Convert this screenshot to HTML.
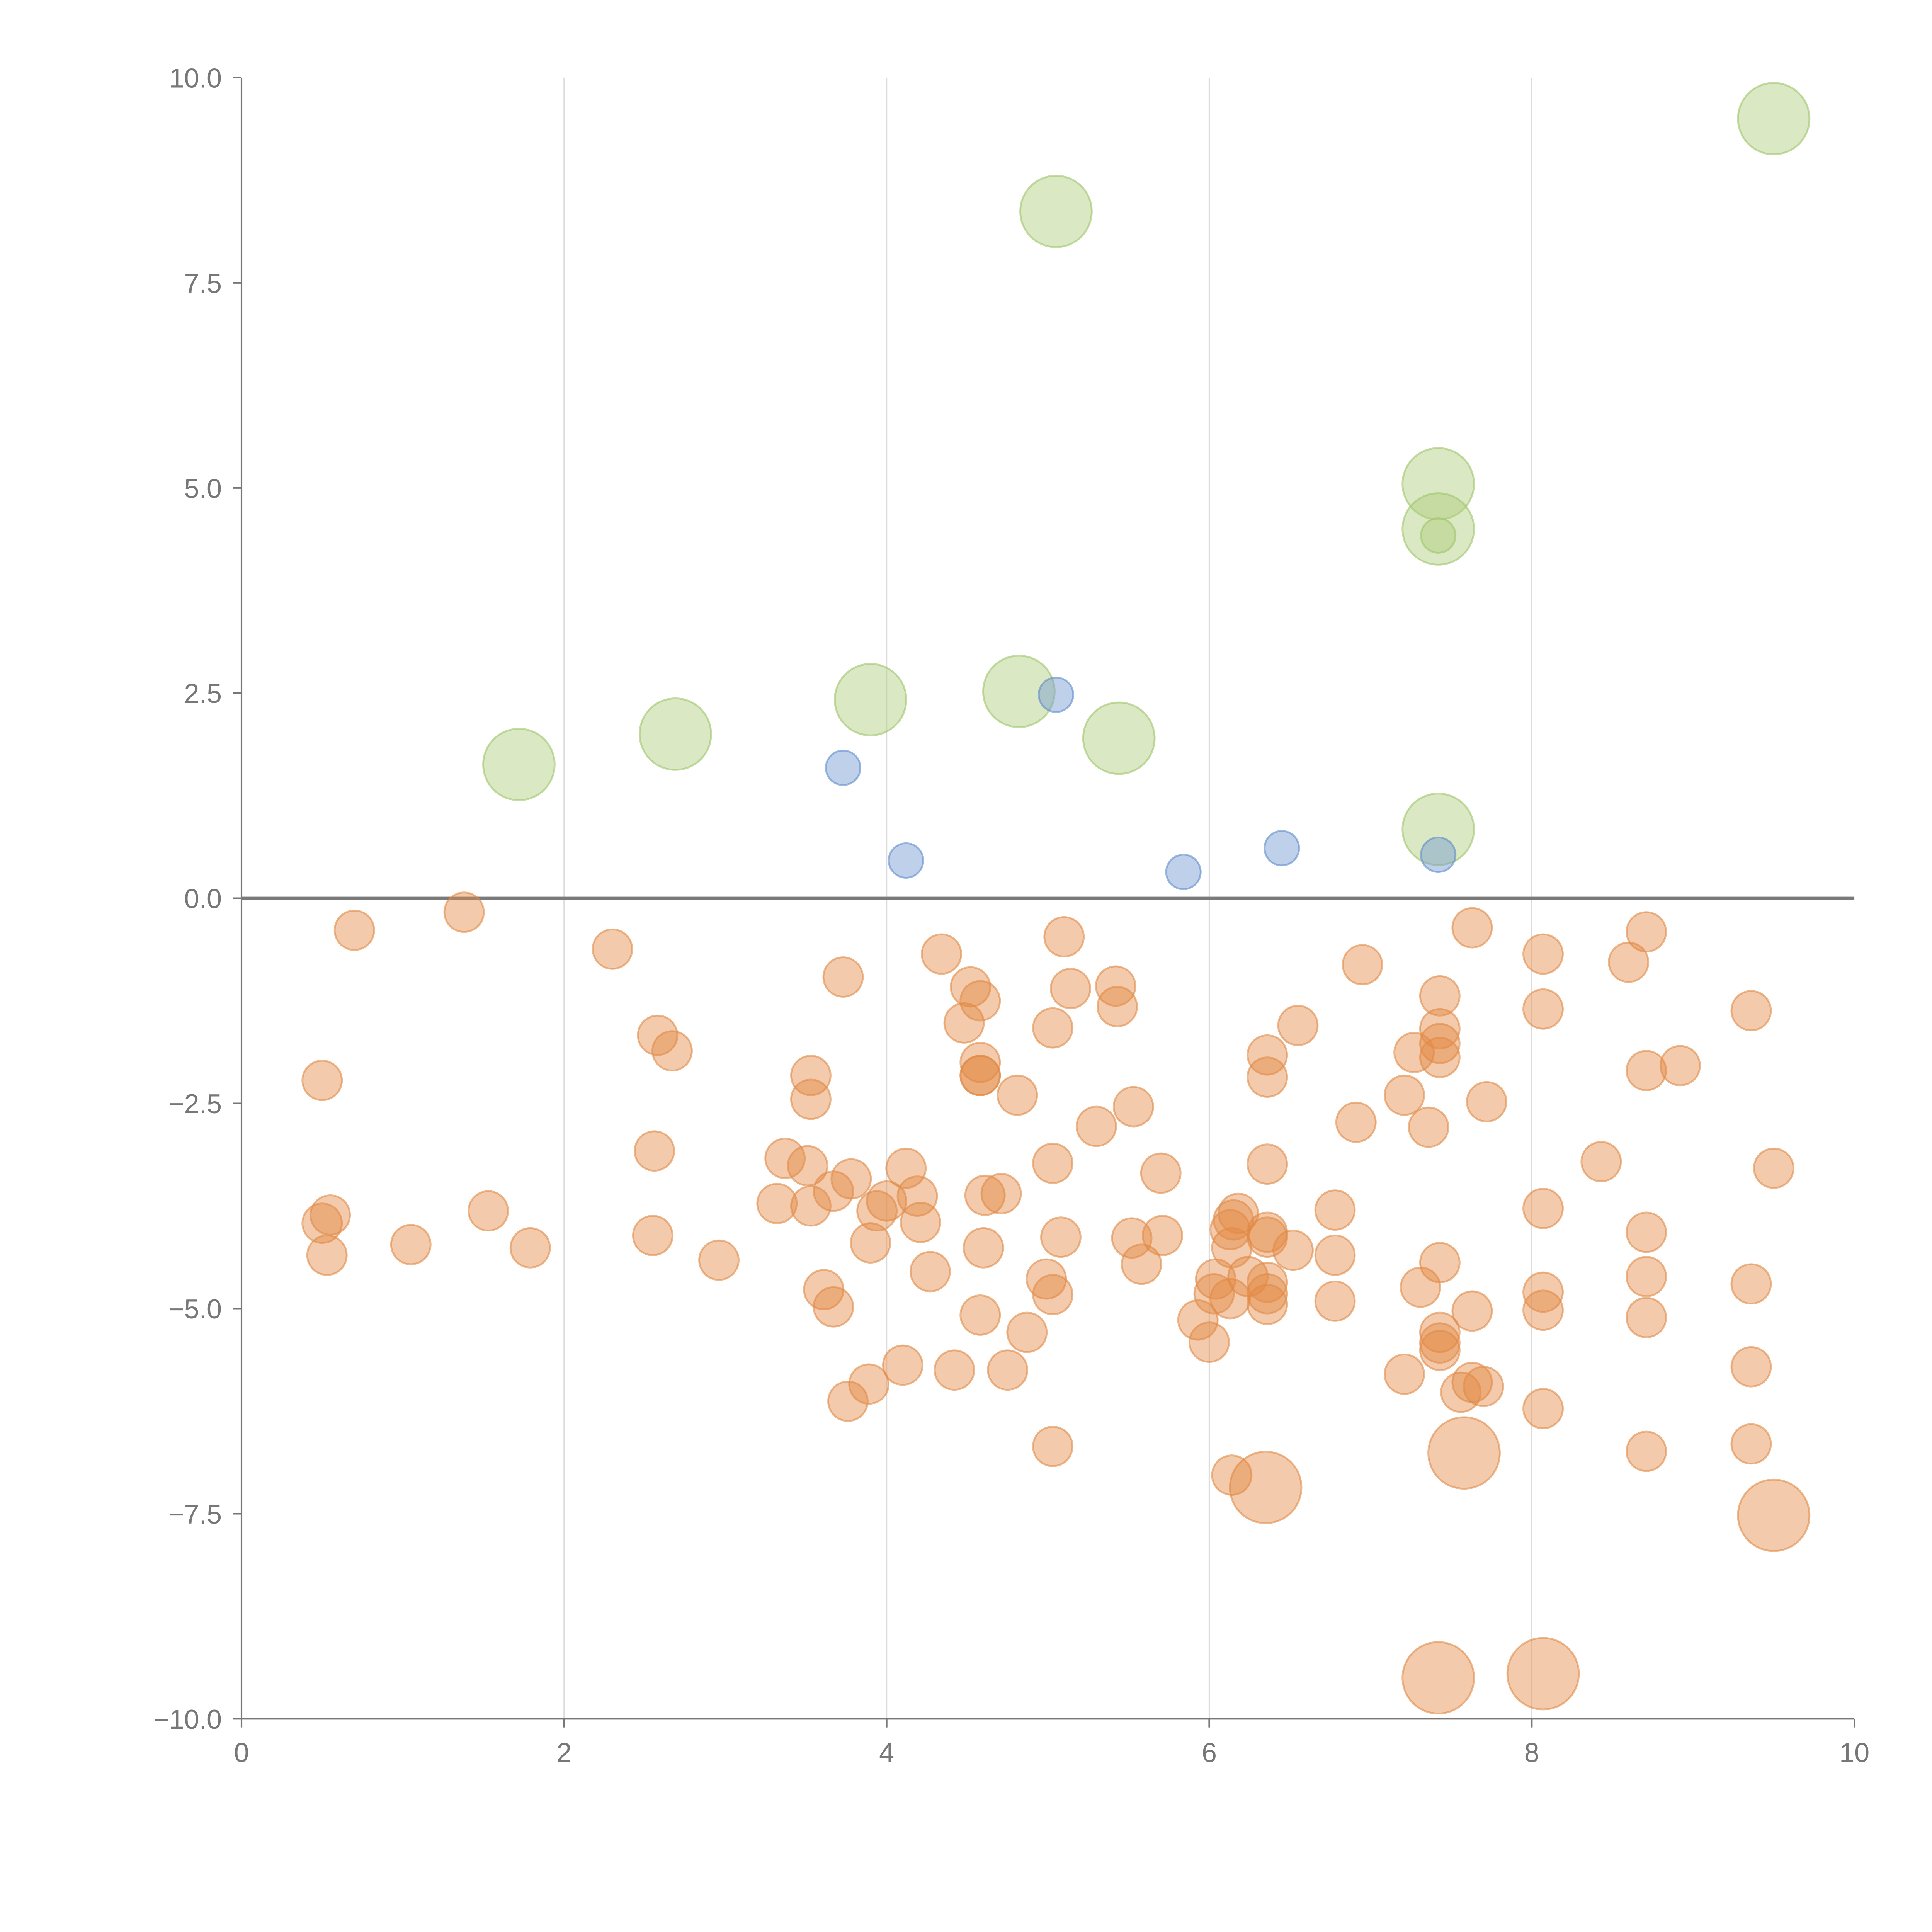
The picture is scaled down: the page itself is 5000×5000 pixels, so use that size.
<!DOCTYPE html>
<html><head><meta charset="utf-8"><style>html,body{margin:0;padding:0;background:#fff}svg{display:block}</style></head>
<body>
<svg id="chart" width="5000" height="5000" viewBox="0 0 1568 1568" xmlns="http://www.w3.org/2000/svg" font-family="Liberation Sans, sans-serif">
<g id="grid"></g>
<g id="axes"></g>
<g id="marks"></g>
</svg>
<script>
const xTicks=[0,2,4,6,8,10];
const yTicks=[-10,-7.5,-5,-2.5,0,2.5,5,7.5,10];
const greenX=[1.72,2.69,3.9,4.82,5.05,5.44,7.42,7.42,7.42,9.5,7.42];
const greenY=[1.63,2.0,2.42,2.52,8.37,1.95,5.05,4.5,0.84,9.5,4.42];
const greenR=[29,29,29,29,29,29,29,29,29,29,14];
const blueX=[3.73,4.12,5.05,5.84,6.45,7.42];
const blueY=[1.59,0.46,2.48,0.32,0.61,0.53];
const orangeBigX=[6.35,7.58,9.5,7.42,8.07];
const orangeBigY=[-7.18,-6.76,-7.52,-9.5,-9.45];
const orangeX=[0.70,1.38,2.30,0.50,0.50,0.55,0.53,1.05,1.53,1.79,2.58,2.67,2.56,2.55,2.96,3.37,3.51,3.53,3.53,3.32,3.53,3.67,3.78,3.73,3.61,3.67,3.76,3.89,3.90,3.94,4.00,4.12,4.19,4.21,4.10,4.27,4.34,4.42,4.48,4.52,4.58,4.58,4.58,4.58,4.61,4.60,4.58,4.71,4.75,4.81,4.87,5.10,5.03,5.14,5.03,5.08,4.99,5.03,5.03,5.30,5.42,5.43,5.53,5.70,5.52,5.58,5.71,5.93,6.00,6.04,6.03,6.13,6.14,6.15,6.18,6.14,6.13,6.24,6.36,6.36,6.36,6.36,6.36,6.36,6.36,6.36,6.52,6.55,6.78,6.78,6.78,6.91,6.95,7.21,7.27,7.21,7.31,7.36,7.43,7.43,7.43,7.43,7.43,7.43,7.43,7.43,7.56,7.63,7.70,7.63,7.63,7.72,8.07,8.07,8.07,8.07,8.07,8.07,8.43,8.60,8.71,8.71,8.71,8.71,8.71,8.71,8.92,9.36,9.36,9.36,9.36,9.50];
const orangeY=[-0.39,-0.17,-0.62,-2.22,-3.96,-3.86,-4.35,-4.22,-3.81,-4.26,-1.67,-1.86,-3.08,-4.11,-4.41,-3.17,-3.26,-2.16,-2.45,-3.72,-3.75,-3.57,-3.42,-0.96,-4.77,-4.98,-6.13,-5.92,-4.20,-3.81,-3.69,-3.29,-3.63,-3.95,-5.69,-4.55,-0.68,-5.75,-1.52,-1.08,-1.25,-2.0,-2.16,-2.16,-3.62,-4.26,-5.08,-3.60,-5.75,-2.40,-5.29,-0.47,-1.58,-1.10,-3.23,-4.13,-4.64,-4.83,-6.68,-2.78,-1.07,-1.32,-2.54,-3.35,-4.14,-4.46,-4.11,-5.14,-5.41,-4.64,-4.82,-4.88,-7.03,-3.92,-3.84,-4.26,-4.04,-4.61,-1.91,-2.18,-3.24,-4.07,-4.13,-4.68,-4.82,-4.95,-4.29,-1.55,-3.80,-4.35,-4.91,-2.73,-0.81,-2.40,-1.88,-5.80,-4.74,-2.79,-1.19,-1.59,-1.77,-1.94,-4.44,-5.29,-5.42,-5.51,-6.02,-5.90,-5.95,-5.03,-0.36,-2.48,-0.68,-1.35,-3.78,-4.80,-5.02,-6.22,-3.21,-0.78,-0.41,-2.10,-4.07,-4.61,-5.11,-6.74,-2.04,-1.37,-4.70,-5.71,-6.65,-3.29];
const NS='http://www.w3.org/2000/svg';
const X0=196,X1=1505,Y0=1395,Y1=63;
function sx(v){return X0+(v-0)/(10-0)*(X1-X0);}
function sy(v){return Y0-(v+10)/20*(Y0-Y1);}
function mk(tag,attrs,parent){const e=document.createElementNS(NS,tag);for(const k in attrs)e.setAttribute(k,attrs[k]);parent.appendChild(e);return e;}
const grid=document.getElementById('grid'),axes=document.getElementById('axes'),marks=document.getElementById('marks');
xTicks.forEach(t=>{
  if(t>0&&t<10){const g=mk('line',{x1:sx(t),x2:sx(t),y1:Y1,y2:Y0,stroke:'#dcdcdc','stroke-width':1},grid);
  
  }
  const tk=mk('line',{x1:sx(t),x2:sx(t),y1:Y0,y2:Y0+7,stroke:'#777','stroke-width':1.3},axes);
  
  
  const lb=mk('text',{x:sx(t),y:Y0+35,'text-anchor':'middle','font-size':22,fill:'#777'},axes);
  lb.textContent=String(t);
  
  
});
yTicks.forEach(t=>{
  const tk=mk('line',{x1:X0-7,x2:X0,y1:sy(t),y2:sy(t),stroke:'#777','stroke-width':1.3},axes);
  
  
  const lb=mk('text',{x:X0-16,y:sy(t)+8,'text-anchor':'end','font-size':22,fill:'#777'},axes);
  lb.textContent=(t<0?'\u2212'+Math.abs(t).toFixed(1):t.toFixed(1));
  
  
});
const ya=mk('line',{x1:X0,x2:X0,y1:Y1,y2:Y0,stroke:'#777','stroke-width':1.3},axes);


const xa=mk('line',{x1:X0,x2:X1,y1:Y0,y2:Y0,stroke:'#777','stroke-width':1.3},axes);


const zl=mk('line',{x1:X0,x2:X1,y1:sy(0),y2:sy(0),stroke:'#7a7a7a','stroke-width':2.5},axes);


function dots(xs,ys,rs,fill,stroke,name){
  xs.forEach((x,i)=>{
    const c=mk('circle',{cx:sx(x),cy:sy(ys[i]),r:(typeof rs==='number'?rs:rs[i]),fill:fill,'fill-opacity':0.45,stroke:stroke,'stroke-opacity':0.6,'stroke-width':1.5},marks);
    
    
  });
}
dots(orangeX,orangeY,16,'#e58a45','#e08a48','orange-bubble');
dots(orangeBigX,orangeBigY,29,'#e58a45','#e08a48','orange-large-bubble');
dots(greenX,greenY,greenR,'#aecb7a','#9fc46a','green-bubble');
dots(blueX,blueY,14,'#7098d0','#5f8ccc','blue-bubble');
</script>
</body></html>
